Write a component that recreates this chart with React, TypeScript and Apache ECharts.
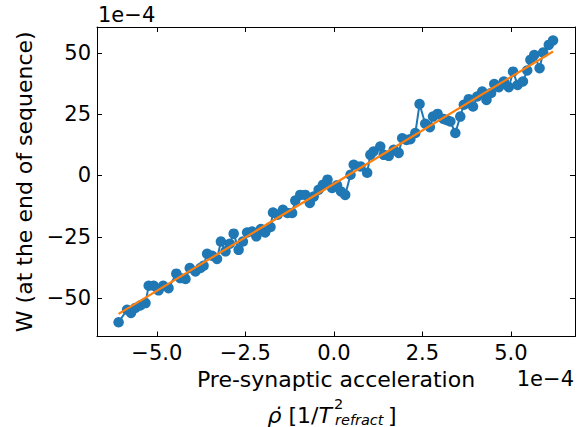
import React, { useEffect, useRef } from "react";
import * as echarts from "echarts";

// Pre-synaptic acceleration (units of 1e-4)
const xVals = [
  -6.08, -5.84, -5.73, -5.61, -5.47, -5.32, -5.23, -5.09, -4.95, -4.82,
  -4.67, -4.45, -4.34, -4.19, -4.07, -3.91, -3.77, -3.68, -3.58, -3.44,
  -3.30, -3.19, -3.06, -2.94, -2.83, -2.69, -2.57, -2.45, -2.31, -2.19,
  -2.06, -1.94, -1.79, -1.72, -1.59, -1.44, -1.31, -1.18, -1.09, -0.95,
  -0.81, -0.68, -0.57, -0.43, -0.31, -0.18, -0.05, 0.09, 0.20, 0.32,
  0.47, 0.56, 0.75, 0.94, 1.03, 1.12, 1.31, 1.41, 1.55, 1.69,
  1.83, 1.93, 2.05, 2.16, 2.30, 2.42, 2.58, 2.71, 2.80, 2.93,
  3.10, 3.20, 3.29, 3.43, 3.57, 3.67, 3.81, 3.93, 4.05, 4.19,
  4.31, 4.44, 4.53, 4.66, 4.80, 4.94, 5.06, 5.19, 5.34, 5.46,
  5.55, 5.66, 5.81, 5.91, 6.07, 6.19,
];
// W at the end of sequence (units of 1e-4)
const yVals = [
  -59.8, -54.7, -56.0, -54.0, -53.0, -52.0, -44.9, -44.9, -46.8, -44.9,
  -45.9, -40.0, -41.8, -42.2, -37.7, -39.1, -37.7, -36.8, -31.9, -32.7,
  -34.0, -26.9, -30.9, -27.8, -23.7, -30.3, -26.9, -23.2, -22.8, -24.8,
  -21.8, -23.2, -21.0, -15.1, -16.0, -14.0, -15.3, -15.3, -10.2, -7.9,
  -7.9, -11.2, -8.6, -5.8, -3.8, -1.7, -5.1, -4.0, -6.5, -7.9,
  0.3, 4.4, 3.7, 1.1, 8.4, 9.8, 11.8, 8.4, 8.0, 10.5,
  9.2, 15.2, 14.5, 14.8, 17.3, 29.1, 21.1, 19.7, 24.0, 25.1,
  23.0, 22.5, 22.0, 17.3, 24.0, 28.8, 31.1, 28.1, 32.2, 34.2,
  30.8, 33.6, 37.3, 36.0, 38.3, 36.0, 42.3, 36.9, 38.3, 42.8,
  47.1, 49.1, 43.7, 50.1, 53.2, 55.0,
];
// Linear fit endpoints
const fitX = [-6.08, 6.19];
const fitY = [-56.4, 50.5];

const xTicks = [-5, -2.5, 0, 2.5, 5];
const yTicks = [-50, -25, 0, 25, 50];

const FONT = "DejaVu Sans";
const minus = (s: string) => s.replace("-", "\u2212");

export default function App() {
  const ref = useRef<HTMLDivElement>(null);
  useEffect(() => {
    if (!ref.current) return;
    const chart = echarts.init(ref.current, null, { renderer: "svg" });
    const axisLine = { show: true, onZero: false, lineStyle: { color: "#000", width: 1 } };
    const tick = (vals: number[]) => ({
      show: true,
      inside: true,
      length: 5,
      customValues: vals,
      lineStyle: { color: "#000", width: 1 },
    });
    const xMin = -6.69, xMax = 6.81, yMin = -65.6, yMax = 60.5;
    chart.setOption({
      animation: false,
      backgroundColor: "#fff",
      grid: { left: 97, right: 11, top: 27, bottom: 90.5, containLabel: false, outerBoundsMode: "none" },
      xAxis: [
        {
          type: "value",
          position: "bottom",
          min: xMin,
          max: xMax,
          axisLine,
          axisTick: tick(xTicks),
          splitLine: { show: false },
          axisLabel: {
            customValues: xTicks,
            formatter: (v: number) => minus(v.toFixed(1)),
            fontSize: 21,
            fontFamily: FONT,
            color: "#000",
            margin: 6,
          },
          name: "Pre-synaptic acceleration",
          nameLocation: "middle",
          nameGap: 32,
          nameTextStyle: { fontSize: 22, fontFamily: FONT, color: "#000" },
        },
        {
          type: "value",
          position: "top",
          min: xMin,
          max: xMax,
          axisLine,
          axisTick: tick(xTicks),
          splitLine: { show: false },
          axisLabel: { show: false },
        },
      ],
      yAxis: [
        {
          type: "value",
          position: "left",
          min: yMin,
          max: yMax,
          axisLine,
          axisTick: tick(yTicks),
          splitLine: { show: false },
          axisLabel: {
            customValues: yTicks,
            formatter: (v: number) => minus(String(Math.round(v))),
            fontSize: 21,
            fontFamily: FONT,
            color: "#000",
            margin: 6,
          },
          name: "W (at the end of sequence)",
          nameLocation: "middle",
          nameGap: 60,
          nameRotate: 90,
          nameTextStyle: { fontSize: 22, fontFamily: FONT, color: "#000" },
        },
        {
          type: "value",
          position: "right",
          min: yMin,
          max: yMax,
          axisLine,
          axisTick: tick(yTicks),
          splitLine: { show: false },
          axisLabel: { show: false },
        },
      ],
      series: [
        {
          type: "line",
          data: xVals.map((x, i) => [x, yVals[i]]),
          symbol: "circle",
          symbolSize: 10.5,
          itemStyle: { color: "#1f77b4", borderWidth: 0 },
          lineStyle: { color: "#1f77b4", width: 2 },
          z: 2,
        },
        {
          type: "line",
          data: fitX.map((x, i) => [x, fitY[i]]),
          symbol: "none",
          lineStyle: { color: "#ff7f0e", width: 2.2 },
          z: 3,
        },
      ],
      graphic: [
        {
          type: "text",
          style: { text: "1e\u22124", x: 98, y: 15, align: "left", verticalAlign: "middle", fontSize: 21, fontFamily: FONT, fill: "#000" },
        },
        {
          type: "text",
          style: { text: "1e\u22124", x: 574, y: 379, align: "right", verticalAlign: "middle", fontSize: 21, fontFamily: FONT, fill: "#000" },
        },
        {
          type: "text",
          style: {
            text: "{i|\u03C1\u0307} [1/{i|T}",
            x: 332,
            y: 415,
            align: "right",
            verticalAlign: "middle",
            fontSize: 22,
            fontFamily: FONT,
            fill: "#000",
            rich: { i: { fontStyle: "italic", fontSize: 22, fontFamily: FONT, fill: "#000" } },
          },
        },
        {
          type: "text",
          style: { text: "2", x: 334, y: 403.5, align: "left", verticalAlign: "middle", fontSize: 14.5, fontFamily: FONT, fill: "#000" },
        },
        {
          type: "text",
          style: { text: "refract", x: 335, y: 419.5, align: "left", verticalAlign: "middle", fontSize: 14.5, fontStyle: "italic", fontFamily: FONT, fill: "#000" },
        },
        {
          type: "text",
          style: { text: "]", x: 388, y: 415, align: "left", verticalAlign: "middle", fontSize: 22, fontFamily: FONT, fill: "#000" },
        },
      ],
    });
    return () => chart.dispose();
  }, []);
  return (
    <div
      ref={ref}
      style={{ position: "fixed", left: 0, top: 0, width: 586, height: 427, background: "#fff" }}
    />
  );
}
